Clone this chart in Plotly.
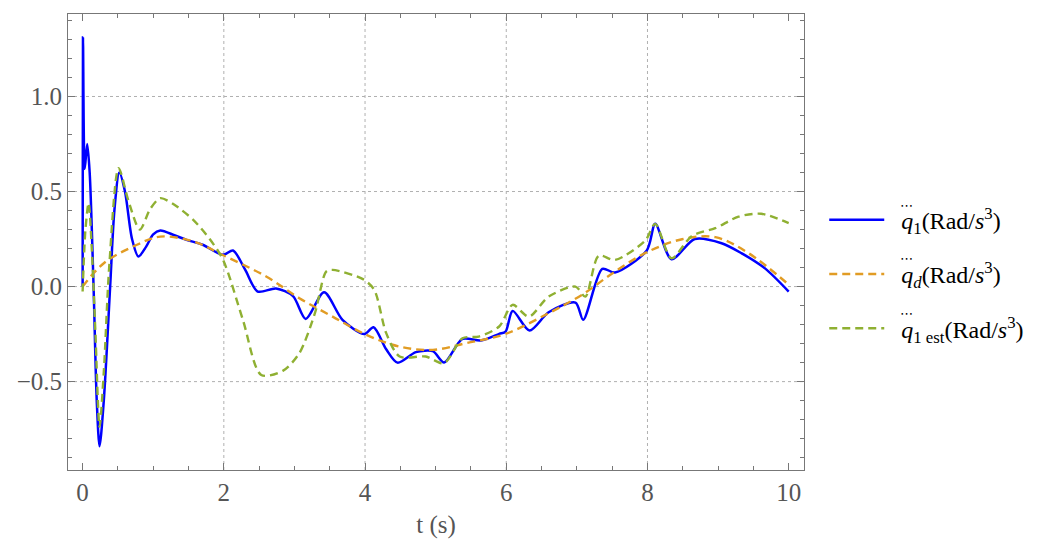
import plotly.graph_objects as go

# ---- data ----
blue_t = [0, 0.005, 0.03, 0.065, 0.1, 0.155, 0.2, 0.24, 0.3, 0.39, 0.45, 0.52, 0.6, 0.7, 0.79,
          0.9, 1.0, 1.1, 1.3, 1.47, 1.7, 1.99, 2.13, 2.3, 2.48, 2.74, 2.98, 3.16, 3.42, 3.68, 3.99,
          4.12, 4.3, 4.46, 4.72, 4.96, 5.12, 5.38, 5.64, 5.9, 5.99, 6.09, 6.33, 6.6, 6.98, 7.09,
          7.36, 7.54, 7.99, 8.11, 8.34, 8.67, 9.05, 9.33, 9.66, 10.0]
blue_y = [0, 1.31, 0.62, 0.75, 0.6, 0.0, -0.6, -0.84, -0.6, 0.0, 0.4, 0.60, 0.5, 0.25, 0.158,
          0.21, 0.275, 0.295, 0.27, 0.246, 0.22, 0.167, 0.19, 0.09, -0.026, -0.01, -0.05, -0.17, -0.03,
          -0.175, -0.25, -0.214, -0.33, -0.40, -0.345, -0.34, -0.40, -0.275, -0.284, -0.249, -0.237,
          -0.128, -0.231, -0.135, -0.084, -0.175, 0.093, 0.074, 0.19, 0.33, 0.144, 0.25, 0.228, 0.176,
          0.097, -0.026]

orange_t = [0, 0.3, 0.77, 1.1, 1.57, 1.99, 2.6, 3.07, 3.54, 4.02, 4.49, 4.96, 5.43, 5.99, 6.6,
            7.07, 7.54, 8.01, 8.49, 8.96, 9.43, 10.0]
orange_y = [0.0, 0.123, 0.22, 0.263, 0.237, 0.165, 0.053, -0.061, -0.158, -0.254, -0.316, -0.333,
            -0.298, -0.249, -0.14, -0.044, 0.079, 0.184, 0.249, 0.26, 0.176, 0.01]

green_t = [0, 0.04, 0.085, 0.13, 0.18, 0.24, 0.3, 0.38, 0.51, 0.65, 0.81, 0.96, 1.1, 1.3, 1.57,
           1.8, 1.99, 2.27, 2.53, 2.84, 3.07, 3.29, 3.45, 3.54, 3.97, 4.13, 4.3, 4.49, 4.86, 5.12,
           5.38, 5.61, 5.9, 6.09, 6.32, 6.6, 6.98, 7.12, 7.31, 7.54, 7.97, 8.11, 8.34, 8.63, 8.96,
           9.29, 9.61, 10.0]
green_y = [-0.026, 0.3, 0.44, 0.2, -0.23, -0.737, -0.45, 0.123, 0.623, 0.45, 0.3, 0.41, 0.465, 0.43,
           0.35, 0.25, 0.14, -0.175, -0.465, -0.442, -0.35, -0.14, 0.079, 0.088, 0.039, -0.017,
           -0.245, -0.368, -0.368, -0.403, -0.272, -0.263, -0.21, -0.096, -0.158, -0.053, 0.0,
           -0.053, 0.162, 0.14, 0.242, 0.33, 0.149, 0.267, 0.307, 0.368, 0.383, 0.334]

names = ["\u00a0\u00a0<i>q</i><sub>1</sub>(Rad/<i>s</i><sup>3</sup>)",
         "\u00a0\u00a0<i>q</i><sub><i>d</i></sub>(Rad/<i>s</i><sup>3</sup>)",
         "\u00a0\u00a0<i>q</i><sub>1 est</sub>(Rad/<i>s</i><sup>3</sup>)"]
dots_label = "\u22ef"   # the three dots above each q (third derivative)

x_ticks = [0, 2, 4, 6, 8, 10]
y_ticks = [-0.5, 0.0, 0.5, 1.0]
grid_x = [2, 4, 6, 8]
grid_y = [-0.5, 0.0, 0.5, 1.0]

FONT = "Liberation Serif"
GRAY = "#555555"

fig = go.Figure()
fig.add_trace(go.Scatter(x=blue_t, y=blue_y, mode="lines", name=names[0], legendgroup="a",
                         line=dict(color="#0000FF", width=2.5, shape="spline", smoothing=0.8)))
fig.add_trace(go.Scatter(x=orange_t, y=orange_y, mode="lines", name=names[1], legendgroup="b",
                         line=dict(color="#E19C24", width=2.4, dash="8px,5px", shape="spline", smoothing=1.0)))
fig.add_trace(go.Scatter(x=green_t, y=green_y, mode="lines", name=names[2], legendgroup="c",
                         line=dict(color="#8FB032", width=2.4, dash="8px,5px", shape="spline", smoothing=0.8)))

shapes = []
for gx in grid_x:
    shapes.append(dict(type="line", xref="x", yref="paper", x0=gx, x1=gx, y0=0, y1=1, layer="below",
                       line=dict(color="#b0b0b0", width=1, dash="dot")))
for gy in grid_y:
    shapes.append(dict(type="line", xref="paper", yref="y", x0=0, x1=1, y0=gy, y1=gy, layer="below",
                       line=dict(color="#b0b0b0", width=1, dash="dot")))

# three-dot accents placed over the q of each legend entry
dot_y = [0.579, 0.463, 0.344]
annotations = [dict(xref="paper", yref="paper", x=1.139, y=yy, text=dots_label, showarrow=False,
                    font=dict(family="DejaVu Sans", size=13, color="#000000"),
                    xanchor="center", yanchor="middle") for yy in dot_y]

axis_common = dict(showline=True, linecolor="#777777", linewidth=1, mirror="allticks",
                   ticks="inside", ticklen=7, tickcolor="#777777", showgrid=False, zeroline=False,
                   automargin=False,
                   tickfont=dict(family=FONT, size=25, color=GRAY))

fig.update_layout(
    width=1046, height=540, autosize=False,
    margin=dict(l=60, r=250, t=6, b=78),
    plot_bgcolor="white", paper_bgcolor="white",
    shapes=shapes, annotations=annotations,
    xaxis=dict(range=[-0.207, 10.217], tickvals=x_ticks,
               minor=dict(ticks="inside", ticklen=4, dtick=0.5, tick0=0, tickcolor="#777777"),
               title=dict(text="t (s)", font=dict(family=FONT, size=25, color=GRAY), standoff=10),
               **axis_common),
    yaxis=dict(range=[-0.965, 1.434], tickvals=y_ticks, tickformat=".1f",
               minor=dict(ticks="inside", ticklen=4, dtick=0.1, tick0=0, tickcolor="#777777"),
               **axis_common),
    legend=dict(x=1.0275, y=0.597, xanchor="left", yanchor="top", tracegroupgap=20,
                font=dict(family=FONT, size=24, color="#000000"), itemwidth=55,
                bgcolor="rgba(0,0,0,0)"),
)

fig.write_html("out.html")
